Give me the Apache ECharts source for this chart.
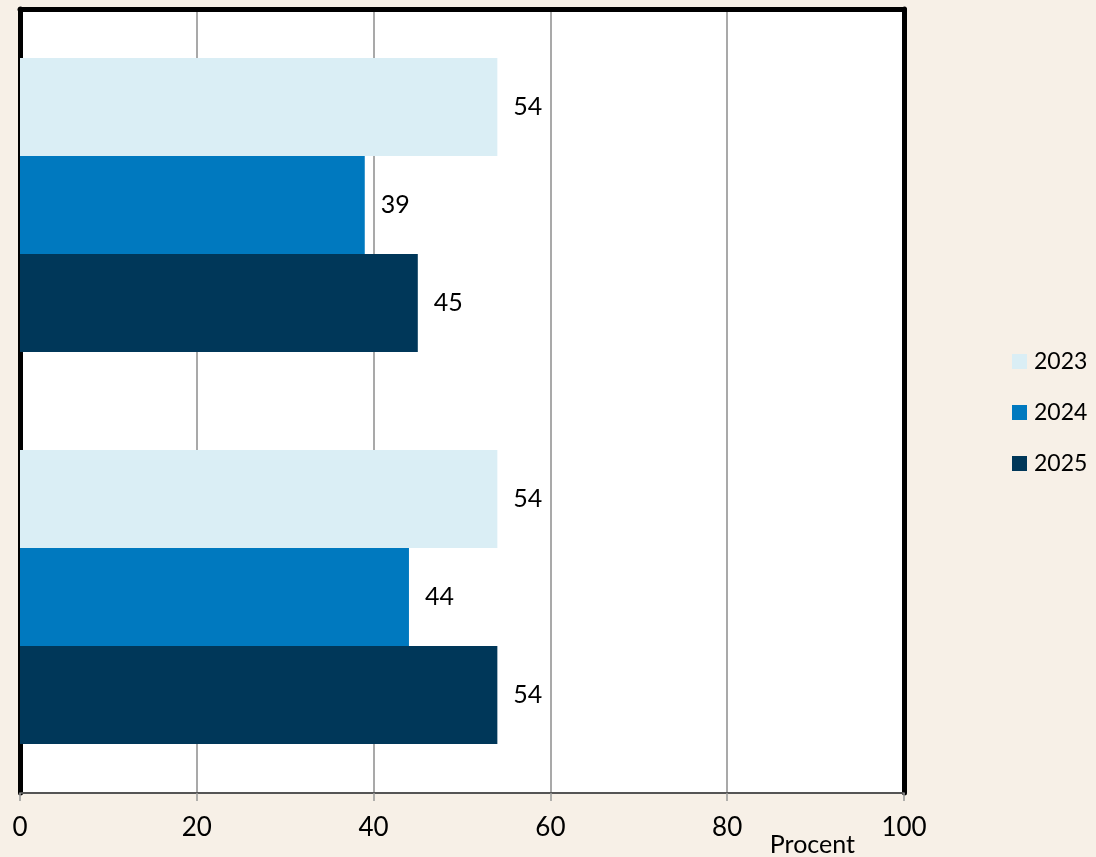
<!DOCTYPE html>
<html><head><meta charset="utf-8">
<script src="https://cdn.jsdelivr.net/npm/echarts@6/dist/echarts.min.js"></script>
<style>html,body{margin:0;padding:0;background:#F7F0E7;}#c{width:1096px;height:857px;}</style>
</head><body><div id="c"></div>
<script>
const categories = ['A', 'B'];
const seriesNames = ['2023', '2024', '2025'];
const values2023 = [54, 54];
const values2024 = [39, 44];
const values2025 = [45, 54];
const xTicks = [0, 20, 40, 60, 80, 100];
const colors = ['#DAEEF5', '#0079BF', '#003759'];
const FONT = 'Lato';

const chart = echarts.init(document.getElementById('c'));
const dataSets = [values2023, values2024, values2025];
chart.setOption({
  backgroundColor: '#F7F0E7',
  animation: false,
  textStyle: { fontFamily: FONT },
  grid: { left: 20, right: 192, top: 9, bottom: 64, show: true, backgroundColor: '#FFFFFF', borderWidth: 0 },
  legend: {
    orient: 'vertical', left: 1007, top: 345, itemWidth: 15, itemHeight: 15, itemGap: 28,
    icon: 'rect', data: seriesNames,
    textStyle: { fontSize: 23, color: '#000', fontFamily: FONT, padding: [0, 0, 0, 2] }
  },
  xAxis: [{
    type: 'value', min: xTicks[0], max: xTicks[xTicks.length - 1], interval: 20,
    axisLine: { show: true, lineStyle: { color: '#555', width: 2 } },
    axisTick: { show: true, length: 8, lineStyle: { color: '#999', width: 1.5 } },
    axisLabel: { fontSize: 26, color: '#000', margin: 22, fontFamily: FONT },
    splitLine: { show: true, lineStyle: { color: '#8c8c8c', width: 1.5 } },
    name: 'Procent', nameLocation: 'end', nameGap: -49,
    nameTextStyle: { fontSize: 25, color: '#000', align: 'right', verticalAlign: 'top', padding: [39, 0, 0, 0], fontFamily: FONT }
  }, {
    type: 'value', position: 'top', min: 0, max: 100,
    axisLine: { show: true, onZero: false, lineStyle: { color: '#000', width: 5 } },
    axisTick: { show: false }, axisLabel: { show: false }, splitLine: { show: false }
  }],
  yAxis: [{
    type: 'category', data: categories, inverse: true,
    axisLine: { show: true, lineStyle: { color: '#000', width: 5 } },
    axisTick: { show: false }, axisLabel: { show: false }, splitLine: { show: false }
  }, {
    type: 'category', data: categories, inverse: true, position: 'right',
    axisLine: { show: true, onZero: false, lineStyle: { color: '#000', width: 5 } },
    axisTick: { show: false }, axisLabel: { show: false }, splitLine: { show: false }
  }],
  series: seriesNames.map((n, i) => ({
    name: n, type: 'bar', data: dataSets[i], barGap: '0%', barCategoryGap: '25%',
    itemStyle: { color: colors[i] },
    label: { show: true, position: 'right', distance: 16, fontSize: 25, color: '#000', fontFamily: FONT }
  }))
});
</script></body></html>
